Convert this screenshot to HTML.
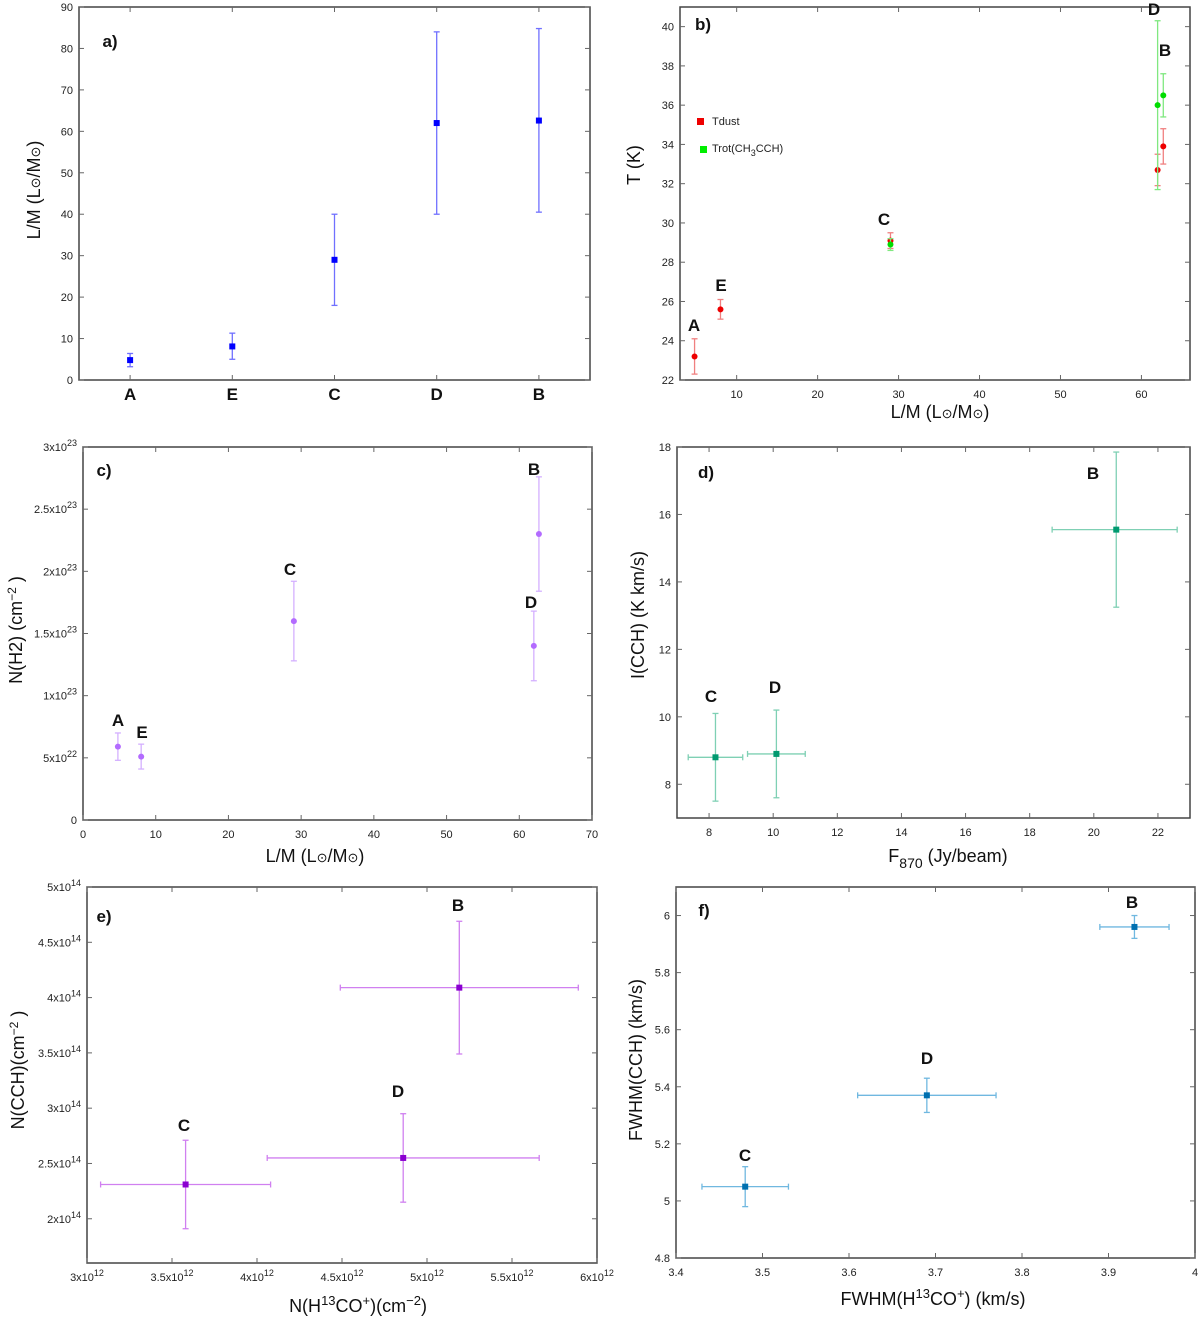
<!DOCTYPE html>
<html><head><meta charset="utf-8">
<style>
html,body{margin:0;padding:0;background:#fff;}
svg{display:block;font-family:"Liberation Sans",sans-serif;}
.tick{font-size:11px;fill:#222;}
.title{font-size:18px;fill:#111;}
.plab{font-size:17px;font-weight:bold;fill:#111;}
</style></head>
<body>
<svg id="chart" width="1200" height="1321" viewBox="0 0 1200 1321">
<g id="root"></g>
</svg>
<script>
// ---- Panel a data ----
const aCategories = ["A","E","C","D","B"];
const aValues = [4.8, 8.1, 29, 62, 62.6];
const aLow = [3.2, 5.0, 18, 40, 40.5];
const aHigh = [6.4, 11.3, 40, 84, 84.8];
const aYTicks = [0,10,20,30,40,50,60,70,80,90];
// ---- Panel b data ----
const bNames = ["A","E","C","D","B"];
const bX = [4.8, 8, 29, 62, 62.7];
const bTdust = [23.2, 25.6, 29.1, 32.7, 33.9];
const bTdustLow = [22.3, 25.1, 28.7, 31.9, 33.0];
const bTdustHigh = [24.1, 26.1, 29.5, 33.5, 34.8];
const bTrotX = [29, 62, 62.7];
const bTrot = [28.9, 36.0, 36.5];
const bTrotLow = [28.6, 31.7, 35.4];
const bTrotHigh = [29.2, 40.3, 37.6];
const bXTicks = [10,20,30,40,50,60];
const bYTicks = [22,24,26,28,30,32,34,36,38,40];
// ---- Panel c data ----
const cNames = ["A","E","C","D","B"];
const cX = [4.8, 8, 29, 62, 62.7];
const cY = [5.9e22, 5.1e22, 1.6e23, 1.4e23, 2.3e23];
const cLow = [4.8e22, 4.1e22, 1.28e23, 1.12e23, 1.84e23];
const cHigh = [7.0e22, 6.1e22, 1.92e23, 1.68e23, 2.76e23];
const cXTicks = [0,10,20,30,40,50,60,70];
const cYTicks = [0,5e22,1e23,1.5e23,2e23,2.5e23,3e23];
// ---- Panel d data ----
const dNames = ["C","D","B"];
const dX = [8.2, 10.1, 20.7];
const dXLow = [7.35, 9.2, 18.7];
const dXHigh = [9.05, 11.0, 22.6];
const dY = [8.8, 8.9, 15.55];
const dYLow = [7.5, 7.6, 13.25];
const dYHigh = [10.1, 10.2, 17.85];
const dXTicks = [8,10,12,14,16,18,20,22];
const dYTicks = [8,10,12,14,16,18];
// ---- Panel e data ----
const eNames = ["C","D","B"];
const eX = [3.58e12, 4.86e12, 5.19e12];
const eXLow = [3.08e12, 4.06e12, 4.49e12];
const eXHigh = [4.08e12, 5.66e12, 5.89e12];
const eY = [2.31e14, 2.55e14, 4.09e14];
const eYLow = [1.91e14, 2.15e14, 3.49e14];
const eYHigh = [2.71e14, 2.95e14, 4.69e14];
const eXTicks = [3e12,3.5e12,4e12,4.5e12,5e12,5.5e12,6e12];
const eYTicks = [2e14,2.5e14,3e14,3.5e14,4e14,4.5e14,5e14];
// ---- Panel f data ----
const fNames = ["C","D","B"];
const fX = [3.48, 3.69, 3.93];
const fXLow = [3.43, 3.61, 3.89];
const fXHigh = [3.53, 3.77, 3.97];
const fY = [5.05, 5.37, 5.96];
const fYLow = [4.98, 5.31, 5.92];
const fYHigh = [5.12, 5.43, 6.00];
const fXTicks = [3.4,3.5,3.6,3.7,3.8,3.9,4];
const fYTicks = [4.8,5,5.2,5.4,5.6,5.8,6];

const NS = "http://www.w3.org/2000/svg";
const root = document.getElementById("root");
function mk(tag, attrs, parent){
  const e = document.createElementNS(NS, tag);
  for (const k in attrs) e.setAttribute(k, attrs[k]);
  (parent||root).appendChild(e);
  return e;
}
function sciLabel(el, v){
  const exp = Math.floor(Math.log10(v)+1e-9);
  let m = v/Math.pow(10,exp);
  m = Math.round(m*10)/10;
  el.appendChild(document.createTextNode(m+"x10"));
  const t = document.createElementNS(NS,"tspan");
  t.setAttribute("dy","-5"); t.setAttribute("font-size","9");
  t.textContent = exp;
  el.appendChild(t);
}
function panel(id, box, xr, yr, xticks, yticks, sciX, sciY){
  const g = mk("g", {});
  
  
  const [x0,y0,x1,y1] = box;
  const sx = v => x0 + (v-xr[0])/(xr[1]-xr[0])*(x1-x0);
  const sy = v => y1 - (v-yr[0])/(yr[1]-yr[0])*(y1-y0);
  const frame = mk("rect",{x:x0,y:y0,width:x1-x0,height:y1-y0,fill:"none",stroke:"#444","stroke-width":1.5},g);
  
  
  const ax = mk("g",{},g);
  
  
  xticks.forEach(v=>{
    const X = sx(v);
    mk("line",{x1:X,x2:X,y1:y1,y2:y1-5,stroke:"#666"},ax);
    mk("line",{x1:X,x2:X,y1:y0,y2:y0+5,stroke:"#666"},ax);
    const t = mk("text",{x:X,y:y1+18,"text-anchor":"middle",class:"tick"},ax);
    if (sciX) sciLabel(t,v); else t.textContent = v;
  });
  const ay = mk("g",{},g);
  
  
  yticks.forEach(v=>{
    const Y = sy(v);
    mk("line",{x1:x0,x2:x0+5,y1:Y,y2:Y,stroke:"#666"},ay);
    mk("line",{x1:x1,x2:x1-5,y1:Y,y2:Y,stroke:"#666"},ay);
    const t = mk("text",{x:x0-6,y:Y+4,"text-anchor":"end",class:"tick"},ay);
    if (sciY && v!==0) sciLabel(t,v); else t.textContent = v;
  });
  return {g,sx,sy};
}
function errPoint(P, name, x, y, xl, xh, yl, yh, col, barCol, shape){
  const g = mk("g",{},P.g);
  
  
  const X=P.sx(x), Y=P.sy(y);
  if (yl!==null){
    const a=P.sy(yl), b=P.sy(yh);
    mk("line",{x1:X,x2:X,y1:a,y2:b,stroke:barCol,"stroke-width":1.3},g);
    mk("line",{x1:X-3,x2:X+3,y1:a,y2:a,stroke:barCol,"stroke-width":1.3},g);
    mk("line",{x1:X-3,x2:X+3,y1:b,y2:b,stroke:barCol,"stroke-width":1.3},g);
  }
  if (xl!==null){
    const a=P.sx(xl), b=P.sx(xh);
    mk("line",{x1:a,x2:b,y1:Y,y2:Y,stroke:barCol,"stroke-width":1.3},g);
    mk("line",{x1:a,x2:a,y1:Y-3,y2:Y+3,stroke:barCol,"stroke-width":1.3},g);
    mk("line",{x1:b,x2:b,y1:Y-3,y2:Y+3,stroke:barCol,"stroke-width":1.3},g);
  }
  if (shape==="circle") mk("circle",{cx:X,cy:Y,r:3,fill:col},g);
  else mk("rect",{x:X-3,y:Y-3,width:6,height:6,fill:col},g);
}
function txt(parent, x, y, s, cls, name, extra){
  const t = mk("text", Object.assign({x:x,y:y,class:cls,"text-anchor":"middle"}, extra||{}), parent);
  
  
  t.innerHTML = s;
  return t;
}
const SUN = 'L<tspan font-size="13">⊙</tspan>/M<tspan font-size="13">⊙</tspan>';

// Panel a
{
  const P = panel("a",[79,7,590,380],[0.5,5.5],[0,90],[],aYTicks,false,false);
  aCategories.forEach((c,i)=>{
    const X = P.sx(i+1);
    mk("line",{x1:X,x2:X,y1:380,y2:375,stroke:"#666"},P.g);
    mk("line",{x1:X,x2:X,y1:7,y2:12,stroke:"#666"},P.g);
    txt(P.g,X,400,c,"plab","x-category-"+c.toLowerCase());
    errPoint(P,"a-"+c,i+1,aValues[i],null,null,aLow[i],aHigh[i],"#0000ff","#7070ff","square");
  });
  txt(P.g,110,47,"a)","plab","panel-a-label",{"text-anchor":"middle"});
  txt(P.g,40,190,"L/M ("+SUN+")","title","a-y-axis-title",{transform:"rotate(-90 40 190)"});
}
// Panel b
{
  const P = panel("b",[680,7,1190,380],[3,66],[22,41],bXTicks,bYTicks,false,false);
  bNames.forEach((n,i)=>errPoint(P,"b-tdust-"+n,bX[i],bTdust[i],null,null,bTdustLow[i],bTdustHigh[i],"#ee0000","#f08080","circle"));
  bTrotX.forEach((x,i)=>errPoint(P,"b-trot-"+i,x,bTrot[i],null,null,bTrotLow[i],bTrotHigh[i],"#00dd00","#80e880","circle"));
  txt(P.g,703,30,"b)","plab","panel-b-label");
  const lbl = [["A",694,331],["E",721,291],["C",884,225],["D",1154,15],["B",1165,56]];
  lbl.forEach(l=>txt(P.g,l[1],l[2],l[0],"plab","b-point-label-"+l[0].toLowerCase()));
  const lg = mk("g",{},P.g);
  
  
  mk("rect",{x:697,y:118,width:7,height:7,fill:"#ee0000"},lg);
  txt(lg,712,125,"Tdust","tick","legend-entry-tdust",{"text-anchor":"start","font-size":"12"});
  mk("rect",{x:700,y:146,width:7,height:7,fill:"#00ee00"},lg);
  txt(lg,712,152,'Trot(CH<tspan dy="4" font-size="9">3</tspan><tspan dy="-4">CCH)</tspan>',"tick","legend-entry-trot",{"text-anchor":"start","font-size":"12"});
  txt(P.g,640,165,"T (K)","title","b-y-axis-title",{transform:"rotate(-90 640 165)"});
  txt(P.g,940,418,"L/M ("+SUN+")","title","b-x-axis-title");
}
// Panel c
{
  const P = panel("c",[83,447,592,820],[0,70],[0,3e23],cXTicks,cYTicks,false,true);
  cNames.forEach((n,i)=>errPoint(P,"c-"+n,cX[i],cY[i],null,null,cLow[i],cHigh[i],"#b36bff","#d4b0ff","circle"));
  txt(P.g,104,476,"c)","plab","panel-c-label");
  const lbl = [["A",118,726],["E",142,738],["C",290,575],["D",531,608],["B",534,475]];
  lbl.forEach(l=>txt(P.g,l[1],l[2],l[0],"plab","c-point-label-"+l[0].toLowerCase()));
  txt(P.g,22,630,'N(H2)  (cm<tspan dy="-6" font-size="12">−2</tspan><tspan dy="6"> )</tspan>',"title","c-y-axis-title",{transform:"rotate(-90 22 630)"});
  txt(P.g,315,862,"L/M ("+SUN+")","title","c-x-axis-title");
}
// Panel d
{
  const P = panel("d",[677,447,1190,818],[7,23],[7,18],dXTicks,dYTicks,false,false);
  dNames.forEach((n,i)=>errPoint(P,"d-"+n,dX[i],dY[i],dXLow[i],dXHigh[i],dYLow[i],dYHigh[i],"#009a70","#7fd0b4","square"));
  txt(P.g,706,478,"d)","plab","panel-d-label");
  const lbl = [["C",711,702],["D",775,693],["B",1093,479]];
  lbl.forEach(l=>txt(P.g,l[1],l[2],l[0],"plab","d-point-label-"+l[0].toLowerCase()));
  txt(P.g,644,615,"I(CCH)  (K km/s)","title","d-y-axis-title",{transform:"rotate(-90 644 615)"});
  txt(P.g,948,862,'F<tspan dy="6" font-size="14">870</tspan><tspan dy="-6"> (Jy/beam)</tspan>',"title","d-x-axis-title");
}
// Panel e
{
  const P = panel("e",[87,887,597,1263],[3e12,6e12],[1.6e14,5e14],eXTicks,eYTicks,true,true);
  eNames.forEach((n,i)=>errPoint(P,"e-"+n,eX[i],eY[i],eXLow[i],eXHigh[i],eYLow[i],eYHigh[i],"#8a00d0","#d080f0","square"));
  txt(P.g,104,922,"e)","plab","panel-e-label");
  const lbl = [["C",184,1131],["D",398,1097],["B",458,911]];
  lbl.forEach(l=>txt(P.g,l[1],l[2],l[0],"plab","e-point-label-"+l[0].toLowerCase()));
  txt(P.g,24,1070,'N(CCH)(cm<tspan dy="-6" font-size="12">−2</tspan><tspan dy="6"> )</tspan>',"title","e-y-axis-title",{transform:"rotate(-90 24 1070)"});
  txt(P.g,358,1312,'N(H<tspan dy="-7" font-size="13">13</tspan><tspan dy="7">CO</tspan><tspan dy="-7" font-size="13">+</tspan><tspan dy="7">)(cm</tspan><tspan dy="-7" font-size="13">−2</tspan><tspan dy="7">)</tspan>',"title","e-x-axis-title");
}
// Panel f
{
  const P = panel("f",[676,887,1195,1258],[3.4,4],[4.8,6.1],fXTicks,fYTicks,false,false);
  fNames.forEach((n,i)=>errPoint(P,"f-"+n,fX[i],fY[i],fXLow[i],fXHigh[i],fYLow[i],fYHigh[i],"#0070b0","#70b8e0","square"));
  txt(P.g,704,916,"f)","plab","panel-f-label");
  const lbl = [["C",745,1161],["D",927,1064],["B",1132,908]];
  lbl.forEach(l=>txt(P.g,l[1],l[2],l[0],"plab","f-point-label-"+l[0].toLowerCase()));
  txt(P.g,642,1060,"FWHM(CCH) (km/s)","title","f-y-axis-title",{transform:"rotate(-90 642 1060)"});
  txt(P.g,933,1305,'FWHM(H<tspan dy="-7" font-size="13">13</tspan><tspan dy="7">CO</tspan><tspan dy="-7" font-size="13">+</tspan><tspan dy="7">) (km/s)</tspan>',"title","f-x-axis-title");
}
</script>
</body></html>
